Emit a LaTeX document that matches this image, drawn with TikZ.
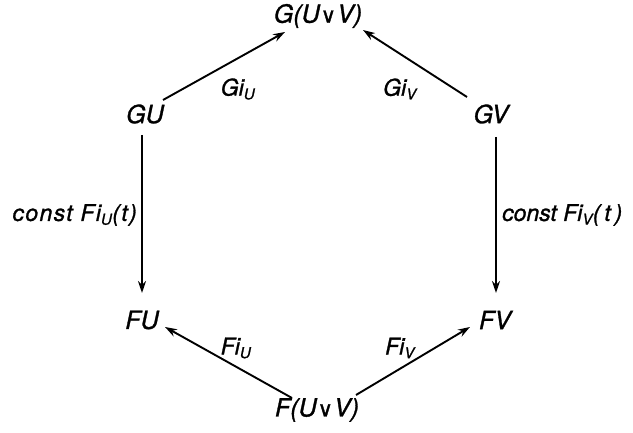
\documentclass[tikz,border=0pt]{standalone}
\usepackage{fontspec}
\setmainfont{TeX Gyre Heros}[ItalicFeatures={FakeBold=1.2}]
\newfontfamily\symfont{DejaVu Sans}[FakeBold=1.5]
\usetikzlibrary{arrows.meta}
\newcommand{\jn}{\kern1pt{\symfont\upshape\fontsize{21}{21}\selectfont ∨}\kern1pt}
\newcommand{\sbU}{\textsubscript{\fontsize{15}{15}\selectfont U}}
\newcommand{\sbV}{\textsubscript{\fontsize{15}{15}\selectfont V}}
\begin{document}
\begin{tikzpicture}[x=1pt,y=1pt,
  obj/.style={font=\fontsize{25}{28}\selectfont\itshape, inner sep=0pt},
  lab/.style={font=\fontsize{23}{26}\selectfont\itshape, inner sep=0pt},
  arr/.style={line width=1.9pt, -{Stealth[length=12pt,width=8pt]}}]
\useasboundingbox (0,0) rectangle (633,433);
\node[obj] (top) at (318,417) {G(U\jn V)};
\node[obj] (gu) at (145,319) {GU};
\node[obj] (gv) at (491,319) {GV};
\node[obj] (fu) at (142,113) {FU};
\node[obj] (fv) at (495,113) {FV};
\node[obj] (bot) at (317,23) {F(U\jn V)};
\draw[arr] ([shift={(18,14)}]gu.center) -- ([shift={(-33,-16)}]top.center);
\draw[arr] ([shift={(-24,17)}]gv.center) -- ([shift={(45,-14)}]top.center);
\draw[arr] ([shift={(-3,-21)}]gu.center) -- ([shift={(0,27)}]fu.center);
\draw[arr] ([shift={(5,-23)}]gv.center) -- ([shift={(1,27)}]fv.center);
\draw[arr] ([shift={(-25,12)}]bot.center) -- ([shift={(23,-7)}]fu.center);
\draw[arr] ([shift={(39,15)}]bot.center) -- ([shift={(-25,-7)}]fv.center);
\node[lab] (l1) at (238,344) {Gi\sbU};
\node[lab] (l2) at (400,344) {Gi\sbV};
\node[lab, anchor=east] (l3) at (137,218) {\addfontfeature{LetterSpace=6}const Fi\sbU(t)};
\node[lab, anchor=west] (l4) at (502,218) {const Fi\sbV(\,t\,)};
\node[lab] (l5) at (236,85) {Fi\sbU};
\node[lab] (l6) at (400,85) {Fi\sbV};
\end{tikzpicture}
\end{document}
